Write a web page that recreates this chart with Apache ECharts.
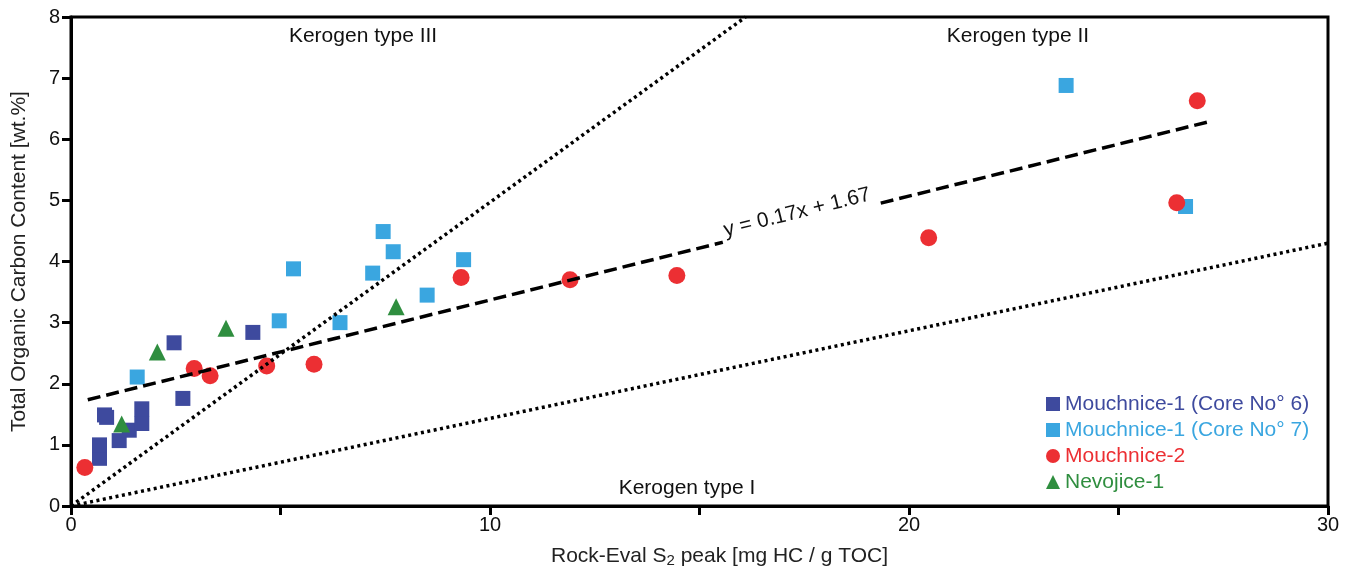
<!DOCTYPE html>
<html>
<head>
    <meta charset="utf-8" />
    <title>TOC vs S2</title>
    <script src="https://cdn.jsdelivr.net/npm/echarts@6/dist/echarts.min.js"></script>
    <style type="text/css">
        html, body { width: 100%; height: 100%; margin: 0; background: #fff; }
        #main { width: 1351px; height: 571px; }
    </style>
</head>
<body>
    <div id="main"></div>
    <script>
        // data: [S2, TOC]
        var core6 = [[0.68, 0.78], [0.68, 1.0], [0.80, 1.49], [0.85, 1.45], [1.15, 1.07], [1.39, 1.24],
            [1.69, 1.35], [1.69, 1.59], [2.46, 2.67], [2.67, 1.76], [4.34, 2.84]];
        var core7 = [[1.58, 2.11], [4.97, 3.03], [5.31, 3.88], [6.42, 3.0], [7.20, 3.81], [7.45, 4.49],
            [7.69, 4.16], [8.50, 3.45], [9.37, 4.03], [23.75, 6.88], [26.6, 4.90]];
        var mouch2 = [[0.33, 0.63], [2.94, 2.25], [3.32, 2.13], [4.67, 2.29], [5.80, 2.32], [9.31, 3.74],
            [11.91, 3.70], [14.46, 3.77], [20.47, 4.39], [26.39, 4.96], [26.88, 6.63]];
        var nevojice = [[1.21, 1.34], [2.06, 2.52], [3.70, 2.91], [7.76, 3.26]];

        var regSlope = 0.17, regIntercept = 1.67;
        var regRange = [0.4, 27.2];
        var typeIIline = [[0, 0], [16.1, 8]];
        var typeIline = [[0, 0], [30, 4.3]];

        var names = ['Mouchnice-1 (Core No° 6)', 'Mouchnice-1 (Core No° 7)', 'Mouchnice-2', 'Nevojice-1'];
        var colors = ['#3E4A9E', '#3AA6E0', '#EC2F33', '#2F8E3F'];

        var regLine = regRange.map(function (x) { return [x, regSlope * x + regIntercept]; });

        var font = 'Liberation Sans, Arial, sans-serif';
        var chart = echarts.init(document.getElementById('main'));

        var option = {
            animation: false,
            textStyle: { fontFamily: font },
            grid: {
                left: 71, right: 23, top: 17, bottom: 65,
                outerBoundsMode: 'none', containLabel: false,
                show: true, borderColor: '#000', borderWidth: 3, backgroundColor: '#fff'
            },
            legend: {
                orient: 'vertical',
                left: 1041, top: 388,
                itemWidth: 14, itemHeight: 14, itemGap: 4,
                textStyle: { fontSize: 21, lineHeight: 22, fontFamily: font },
                data: names.map(function (n, i) {
                    return { name: n, icon: ['rect', 'rect', 'circle', 'triangle'][i], textStyle: { color: colors[i] } };
                })
            },
            xAxis: {
                type: 'value', min: 0, max: 30, interval: 5,
                name: '{a|Rock-Eval S}{s|2}{a| peak [mg HC / g TOC]}',
                nameLocation: 'middle', nameGap: 38,
                nameTextStyle: {
                    padding: [0, 0, 0, 40],
                    rich: {
                        a: { fontSize: 21, color: '#222', fontFamily: font },
                        s: { fontSize: 15, color: '#222', fontFamily: font, padding: [9, 0, 0, 0] }
                    }
                },
                axisLine: { lineStyle: { color: '#000', width: 3 } },
                axisTick: { inside: false, length: 9, lineStyle: { color: '#000', width: 3 } },
                axisLabel: {
                    fontSize: 20, color: '#111', margin: 9,
                    formatter: function (v) { return v % 10 === 0 ? String(v) : ''; }
                },
                splitLine: { show: false }
            },
            yAxis: {
                type: 'value', min: 0, max: 8, interval: 1,
                name: 'Total Organic Carbon Content [wt.%]',
                nameLocation: 'middle', nameGap: 41,
                nameTextStyle: { fontSize: 21, color: '#222' },
                axisLine: { lineStyle: { color: '#000', width: 3 } },
                axisTick: { length: 9, lineStyle: { color: '#000', width: 3 } },
                axisLabel: { fontSize: 20, color: '#111', margin: 11 },
                splitLine: { show: false }
            },
            series: [
                {
                    name: 'typeII', type: 'line', data: typeIIline, symbol: 'none', silent: true,
                    lineStyle: { color: '#000', width: 3.5, type: [3, 3.5] }
                },
                {
                    name: 'typeI', type: 'line', data: typeIline, symbol: 'none', silent: true,
                    lineStyle: { color: '#000', width: 3.5, type: [3, 3.5] }
                },
                {
                    name: 'regression', type: 'line', data: regLine, symbol: 'none', silent: true,
                    lineStyle: { color: '#000', width: 3.5, type: [13, 6] }
                },
                { name: names[0], type: 'scatter', data: core6, symbol: 'rect', symbolSize: 15, itemStyle: { color: colors[0], opacity: 1 } },
                { name: names[1], type: 'scatter', data: core7, symbol: 'rect', symbolSize: 15, itemStyle: { color: colors[1], opacity: 1 } },
                { name: names[2], type: 'scatter', data: mouch2, symbol: 'circle', symbolSize: 17, itemStyle: { color: colors[2], opacity: 1 } },
                { name: names[3], type: 'scatter', data: nevojice, symbol: 'triangle', symbolSize: 17, itemStyle: { color: colors[3], opacity: 1 } }
            ]
        };
        chart.setOption(option);

        // annotations placed in data coordinates
        function txt(x, y, s, rot, bg) {
            var p = chart.convertToPixel({ gridIndex: 0 }, [x, y]);
            return {
                type: 'text', x: p[0], y: p[1], rotation: rot || 0, z: 100,
                style: {
                    text: s, fontSize: 21, fontFamily: font, fill: '#111',
                    align: 'center', verticalAlign: 'middle',
                    backgroundColor: bg || 'transparent', padding: bg ? [0, 4, 8, 4] : 0
                }
            };
        }
        chart.setOption({
            graphic: [
                txt(6.97, 7.68, 'Kerogen type III'),
                txt(22.6, 7.68, 'Kerogen type II'),
                txt(14.7, 0.29, 'Kerogen type I'),
                txt(17.33, 4.80, 'y = 0.17x + 1.67', 14 * Math.PI / 180, '#fff')
            ]
        });
    </script>
</body>
</html>
